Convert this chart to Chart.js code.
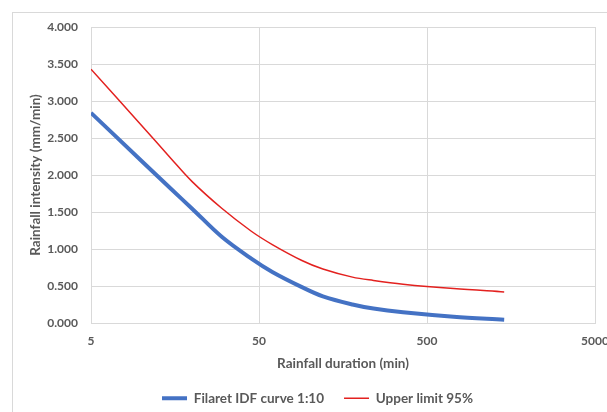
<!DOCTYPE html>
<html><head><meta charset="utf-8">
<script src="https://cdn.jsdelivr.net/npm/chart.js@4/dist/chart.umd.min.js"></script>
<style>
html,body{margin:0;padding:0;background:#fff;}
#wrap{position:relative;width:607px;height:412px;overflow:hidden;}
#frame{position:absolute;left:12px;top:12px;width:700px;height:500px;border-left:1px solid #d9d9d9;border-top:1px solid #d9d9d9;pointer-events:none;}
canvas{position:absolute;left:0;top:0;}
</style></head><body>
<div id="wrap"><canvas id="c" width="607" height="412"></canvas><div id="frame"></div></div>
<script>
const durations = [5, 10, 15, 20, 30, 45, 60, 90, 120, 180, 240, 360, 720, 1440];
const idfCurve = [2.84, 2.19, 1.81, 1.545, 1.165, 0.87, 0.69, 0.485, 0.36, 0.25, 0.195, 0.145, 0.085, 0.045];
const upperLimit = [3.43, 2.67, 2.22, 1.91, 1.55, 1.24, 1.06, 0.845, 0.73, 0.62, 0.575, 0.525, 0.465, 0.42];
const seriesNames = ['Filaret IDF curve 1:10', 'Upper limit 95%'];
const xTickValues = [5, 50, 500, 5000];
const xTickLabels = ['5', '50', '500', '5000'];
const yTickLabels = ['0.000', '0.500', '1.000', '1.500', '2.000', '2.500', '3.000', '3.500', '4.000'];

const textColor = '#595959';
const gridColor = '#d9d9d9';
const fontFamily = 'Lato, "Open Sans", sans-serif';

const legendShift = {
  id: 'legendShift',
  afterLayout(chart) {
    if (chart.legend) { chart.legend.left += 16; }
  }
};

new Chart(document.getElementById('c'), {
  type: 'line',
  data: {
    datasets: [
      {
        label: seriesNames[0],
        data: durations.map((d, i) => ({ x: d, y: idfCurve[i] })),
        borderColor: '#4472c4',
        backgroundColor: '#4472c4',
        borderWidth: 4,
        pointRadius: 0,
        tension: 0.35
      },
      {
        label: seriesNames[1],
        data: durations.map((d, i) => ({ x: d, y: upperLimit[i] })),
        borderColor: '#e3211f',
        backgroundColor: '#e3211f',
        borderWidth: 1.5,
        pointRadius: 0,
        tension: 0.35
      }
    ]
  },
  plugins: [legendShift],
  options: {
    responsive: false,
    animation: false,
    devicePixelRatio: 1,
    layout: { padding: { left: 12, right: 0, top: 27, bottom: -3 } },
    plugins: {
      legend: {
        position: 'bottom',
        labels: {
          usePointStyle: true,
          pointStyle: 'line',
          pointStyleWidth: 25,
          padding: 20,
          color: textColor,
          font: { family: fontFamily, size: 13.5, weight: 'bold' }
        }
      },
      tooltip: { enabled: false }
    },
    scales: {
      x: {
        type: 'logarithmic',
        min: 5,
        max: 5000,
        afterBuildTicks: (s) => { s.ticks = xTickValues.map(v => ({ value: v })); },
        afterFit: (s) => { s.height = 48.5; s.paddingRight = 12; },
        ticks: {
          autoSkip: false,
          maxRotation: 0,
          padding: 11,
          color: textColor,
          font: { family: fontFamily, size: 12, weight: 'bold' },
          callback: (v, i) => xTickLabels[i]
        },
        grid: { color: gridColor, drawTicks: false },
        border: { color: gridColor },
        title: {
          display: true,
          text: 'Rainfall duration (min)',
          color: textColor,
          padding: { top: 0, bottom: 0 },
          font: { family: fontFamily, size: 13.5, weight: 'bold' }
        }
      },
      y: {
        min: 0,
        max: 4,
        afterFit: (s) => { s.width = 79; },
        ticks: {
          stepSize: 0.5,
          padding: 13,
          color: textColor,
          font: { family: fontFamily, size: 12, weight: 'bold' },
          callback: (v, i) => yTickLabels[i]
        },
        grid: { color: gridColor, drawTicks: false },
        border: { color: gridColor },
        title: {
          display: true,
          text: 'Rainfall intensity (mm/min)',
          color: textColor,
          padding: { top: 16, bottom: 0 },
          font: { family: fontFamily, size: 13.5, weight: 'bold' }
        }
      }
    }
  }
});
</script>
</body></html>
